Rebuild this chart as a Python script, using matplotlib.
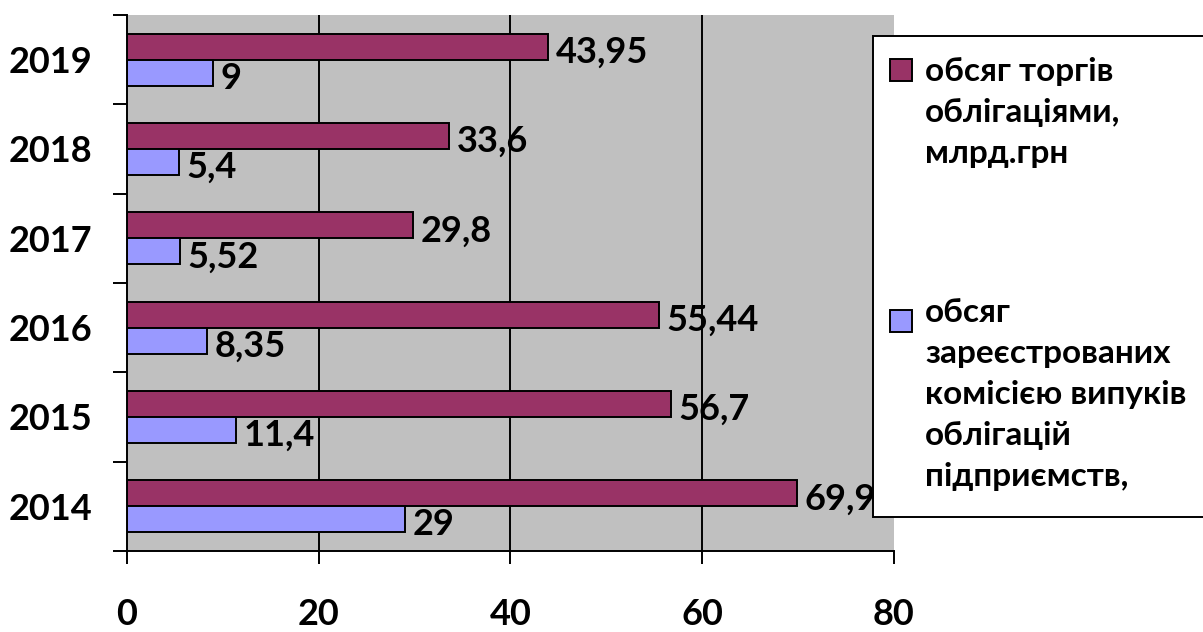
import matplotlib
matplotlib.use("Agg")
import matplotlib.pyplot as plt
from matplotlib.patches import Rectangle
import numpy as np

years = ["2014", "2015", "2016", "2017", "2018", "2019"]
trading = [69.9, 56.7, 55.44, 29.8, 33.6, 43.95]
registered = [29, 11.4, 8.35, 5.52, 5.4, 9]
trading_labels = ["69,9", "56,7", "55,44", "29,8", "33,6", "43,95"]
registered_labels = ["29", "11,4", "8,35", "5,52", "5,4", "9"]
legend_trading = "обсяг торгів\nоблігаціями,\nмлрд.грн"
legend_registered = "обсяг\nзареєстрованих\nкомісією випуків\nоблігацій\nпідприємств,"
xticks = [0, 20, 40, 60, 80]

maroon = "#993366"
blue = "#9999FF"
bg = "#C0C0C0"

WEIGHT = "bold"
plt.rcParams['font.family'] = ['Lato', 'DejaVu Sans']
plt.rcParams['font.weight'] = WEIGHT

W, H = 1203, 632
fig = plt.figure(figsize=(W / 100, H / 100), dpi=100)
ax = fig.add_axes([127 / W, 1 - 551 / H, (894 - 127) / W, (551 - 15) / H])
ax.set_facecolor(bg)

y = np.arange(len(years))
h = 0.29
fs = 26

ax.barh(y + h / 2, trading, height=h, color=maroon, edgecolor="black", linewidth=1.4, zorder=3)
ax.barh(y - h / 2, registered, height=h, color=blue, edgecolor="black", linewidth=1.4, zorder=3)

off = 0.18
for yi, v, lab in zip(y, trading, trading_labels):
    ax.text(v + 0.8, yi + h / 2 - off, lab, va="baseline", ha="left", fontsize=fs,
            fontweight=WEIGHT, zorder=4, clip_on=False)
for yi, v, lab in zip(y, registered, registered_labels):
    ax.text(v + 0.8, yi - h / 2 - off, lab, va="baseline", ha="left", fontsize=fs,
            fontweight=WEIGHT, zorder=4, clip_on=False)

ax.set_xlim(0, 80)
ax.set_ylim(-0.5, len(years) - 0.5)
ax.set_xticks(xticks)
ax.set_xticklabels([str(t) for t in xticks], fontsize=fs, fontweight=WEIGHT)
ax.set_yticks(y)
ax.set_yticklabels(years, fontsize=fs, fontweight=WEIGHT)
ax.set_yticks(np.arange(-0.5, len(years)), minor=True)
ax.tick_params(axis="y", which="major", length=0, pad=25)
ax.tick_params(axis="y", which="minor", length=10, width=1.4, color="black", direction="out")
ax.tick_params(axis="x", which="major", length=9, width=1.4, pad=25, direction="out")

for s in ["top", "right"]:
    ax.spines[s].set_visible(False)
for s in ["left", "bottom"]:
    ax.spines[s].set_linewidth(1.4)
    ax.spines[s].set_zorder(5)

for g in [20, 40, 60]:
    ax.axvline(g, color="black", linewidth=1.4, zorder=2)

# Legend (drawn in figure pixel coordinates)
def px(x, yy):
    return x / W, 1 - yy / H

lx0, ly0, lx1, ly1 = 873, 36, 1215, 517
fig.patches.append(Rectangle(px(lx0, ly1), (lx1 - lx0) / W, (ly1 - ly0) / H,
                             transform=fig.transFigure, facecolor="white",
                             edgecolor="black", linewidth=1.4, zorder=10))
sq = 22
items = [(maroon, legend_trading, 70, 57), (blue, legend_registered, 321, 298)]
for col, txt, cy, ty in items:
    fig.patches.append(Rectangle(px(890, cy + sq / 2), sq / W, sq / H,
                                 transform=fig.transFigure, facecolor=col,
                                 edgecolor="black", linewidth=1.4, zorder=11))
    fig.text(*px(925, ty), txt, ha="left", va="top", fontsize=24,
             fontweight=WEIGHT, linespacing=1.5, zorder=12)

fig.savefig("out.png", dpi=100)
